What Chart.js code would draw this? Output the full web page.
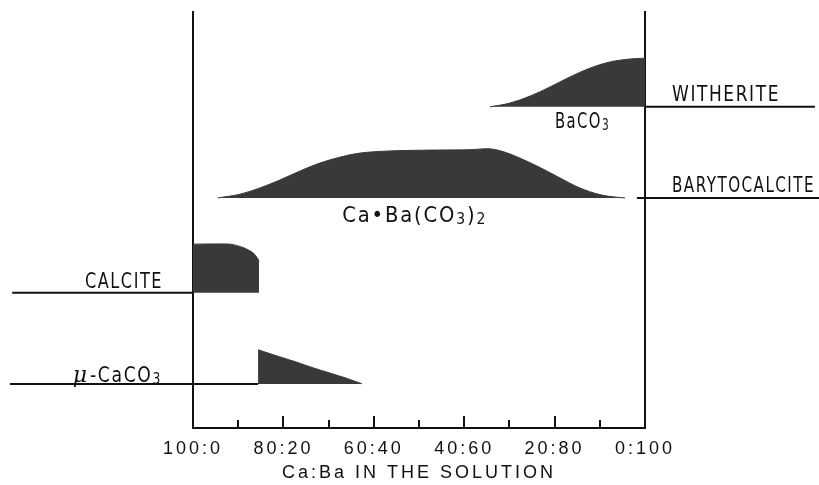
<!DOCTYPE html>
<html>
<head>
<meta charset="utf-8">
<script src="https://cdn.jsdelivr.net/npm/chart.js@4.4.1/dist/chart.umd.min.js"></script>
<style>
  html, body { margin: 0; padding: 0; background: #fff; }
</style>
</head>
<body>
<canvas id="graficoFases" width="819" height="485"></canvas>
<script>
// x = Ba share in the solution (%), so 0 -> "100:0" and 100 -> "0:100"
const xTicks = [0, 10, 20, 30, 40, 50, 60, 70, 80, 90, 100];
const xLabels = ['100:0', '', '80:20', '', '60:40', '', '40:60', '', '20:80', '', '0:100'];

// baseline of each phase band (arbitrary 0-100 vertical units)
const baseMu = 10.6;
const baseCalcite = 32.5;
const baseBaryto = 55.3;
const baseWitherite = 77.2;

// mu-CaCO3
const muX = [14.4, 19.2, 23.0, 26.5, 30.3, 34.1, 37.4];
const muY = [18.8, 17.1, 15.8, 14.5, 13.2, 11.9, 10.6];

// calcite
const calciteX = [0, 8.2, 11.1, 13.3, 14.4, 14.6];
const calciteY = [44.2, 44.2, 43.4, 42.1, 40.6, 40.0];

// Ca.Ba(CO3)2 (barytocalcite)
const barytoX = [5.5, 10.4, 14.8, 19.2, 23.7, 28.1, 32.5, 37.0, 43.6, 52.4, 61.3, 65.7, 69.0, 72.3, 76.8, 81.2, 85.6, 90.0, 93.4, 95.6];
const barytoY = [55.3, 56.2, 57.7, 59.6, 61.8, 63.7, 65.1, 66.1, 66.6, 66.8, 66.9, 67.1, 66.3, 64.9, 62.6, 60.1, 57.7, 56.1, 55.5, 55.3];

// BaCO3 (witherite)
const witheriteX = [65.7, 70.1, 74.6, 79.0, 83.4, 87.8, 92.3, 96.7, 100];
const witheriteY = [77.2, 78.1, 79.8, 82.0, 84.4, 86.5, 88.0, 88.7, 88.9];

// leader lines that run out to the labels
const muLineX = [-40.5, 14.4];
const calciteLineX = [-40.0, 0];
const barytoLineX = [98.2, 138.5];
const witheriteLineX = [100, 137.6];

const FILL = '#393939';
const LABEL_FONT = '"DejaVu Sans", sans-serif';
const pts = (xs, ys) => xs.map((x, i) => ({ x: x, y: ys[i] }));
const flat = (xs, y) => xs.map(x => ({ x: x, y: y }));

function area(xs, ys, base, tension) {
  return {
    data: pts(xs, ys),
    borderColor: FILL,
    backgroundColor: FILL,
    borderWidth: 1,
    pointRadius: 0,
    tension: tension,
    fill: { value: base }
  };
}
function leader(xs, y) {
  return {
    data: flat(xs, y),
    borderColor: '#111',
    borderWidth: 2,
    pointRadius: 0,
    fill: false,
    clip: false
  };
}

// condensed lettering: draw parts ([text, isSub]) squeezed to a given width
function drawFit(ctx, parts, x, y, width, align) {
  const size = 21;
  const fontOf = p => (p[1] ? 15 : size) + 'px ' + LABEL_FONT;
  ctx.letterSpacing = '2px';
  const widths = parts.map(p => { ctx.font = fontOf(p); return ctx.measureText(p[0]).width; });
  const total = widths.reduce((a, b) => a + b, 0);
  const k = width / total;
  ctx.save();
  ctx.translate(align === 'right' ? x - width : x, y);
  ctx.scale(k, 1);
  let cx = 0;
  parts.forEach((p, i) => {
    ctx.font = fontOf(p);
    ctx.fillText(p[0], cx, p[1] ? 2 : 0);
    cx += widths[i];
  });
  ctx.restore();
}

const phasePlugin = {
  id: 'phaseLabels',
  beforeDraw(chart) {
    chart.ctx.letterSpacing = '3px';
  },
  afterDatasetsDraw(chart) {
    const ctx = chart.ctx;
    const xs = chart.scales.x;
    const ys = chart.scales.y;
    const a = chart.chartArea;

    // inward tick marks on the bottom axis
    ctx.save();
    ctx.strokeStyle = '#111';
    ctx.lineWidth = 2;
    xTicks.slice(1, -1).forEach(v => {
      const px = Math.round(xs.getPixelForValue(v));
      const len = v % 20 === 0 ? 12 : 8;
      ctx.beginPath();
      ctx.moveTo(px, a.bottom);
      ctx.lineTo(px, a.bottom - len);
      ctx.stroke();
    });
    ctx.restore();

    ctx.save();
    ctx.fillStyle = '#111';
    ctx.textAlign = 'left';
    ctx.textBaseline = 'alphabetic';
    drawFit(ctx, [['WITHERITE', false]], a.right + 27, ys.getPixelForValue(baseWitherite) - 6, 108, 'left');
    drawFit(ctx, [['BARYTOCALCITE', false]], a.right + 27, ys.getPixelForValue(baseBaryto) - 6, 143, 'left');
    drawFit(ctx, [['BaCO', false], ['3', true]], xs.getPixelForValue(80.1), ys.getPixelForValue(baseWitherite) + 21, 55, 'left');
    drawFit(ctx, [['Ca\u2022Ba(CO', false], ['3', true], [')', false], ['2', true]], xs.getPixelForValue(33), ys.getPixelForValue(baseBaryto) + 24, 145, 'left');
    drawFit(ctx, [['CALCITE', false]], a.left - 30, ys.getPixelForValue(baseCalcite) - 5, 78, 'right');
    const muBase = ys.getPixelForValue(baseMu) - 2;
    drawFit(ctx, [['-CaCO', false], ['3', true]], a.left - 31, muBase, 72, 'right');
    // script mu
    ctx.letterSpacing = '0px';
    ctx.font = 'italic 22px "DejaVu Serif", serif';
    ctx.textAlign = 'right';
    ctx.fillText('\u03bc', a.left - 31 - 72 - 3, muBase);
    ctx.restore();
  }
};

new Chart(document.getElementById('graficoFases').getContext('2d'), {
  type: 'line',
  data: {
    datasets: [
      area(muX, muY, baseMu, 0.3),
      area(calciteX, calciteY, baseCalcite, 0.2),
      area(barytoX, barytoY, baseBaryto, 0.35),
      area(witheriteX, witheriteY, baseWitherite, 0.35),
      leader(muLineX, baseMu),
      leader(calciteLineX, baseCalcite),
      leader(barytoLineX, baseBaryto),
      leader(witheriteLineX, baseWitherite)
    ]
  },
  options: {
    responsive: false,
    animation: false,
    devicePixelRatio: 1,
    layout: { padding: { left: 193, right: 174, top: 12, bottom: 0 } },
    plugins: {
      legend: { display: false },
      tooltip: { enabled: false }
    },
    scales: {
      x: {
        type: 'linear',
        min: 0,
        max: 100,
        afterFit(s) { s.height = 57; },
        grid: { display: false, drawTicks: false },
        border: { display: true, color: '#111', width: 2 },
        ticks: {
          stepSize: 10,
          autoSkip: false,
          maxRotation: 0,
          padding: 10,
          color: '#111',
          font: { family: '"Liberation Sans", Arial, sans-serif', size: 18 },
          callback: v => xLabels[xTicks.indexOf(v)] || ''
        },
        title: {
          display: true,
          text: 'Ca:Ba IN THE SOLUTION',
          color: '#111',
          font: { family: '"Liberation Sans", Arial, sans-serif', size: 18 },
          padding: { top: 0, bottom: 1 }
        }
      },
      y: {
        type: 'linear',
        position: 'left',
        min: 0,
        max: 100,
        afterFit(s) { s.width = 0; },
        grid: { display: false, drawTicks: false },
        ticks: { display: false },
        border: { display: true, color: '#111', width: 2 }
      },
      y2: {
        type: 'linear',
        position: 'right',
        min: 0,
        max: 100,
        afterFit(s) { s.width = 0; },
        grid: { display: false, drawTicks: false },
        ticks: { display: false },
        border: { display: true, color: '#111', width: 2 }
      }
    }
  },
  plugins: [phasePlugin]
});
</script>
</body>
</html>
